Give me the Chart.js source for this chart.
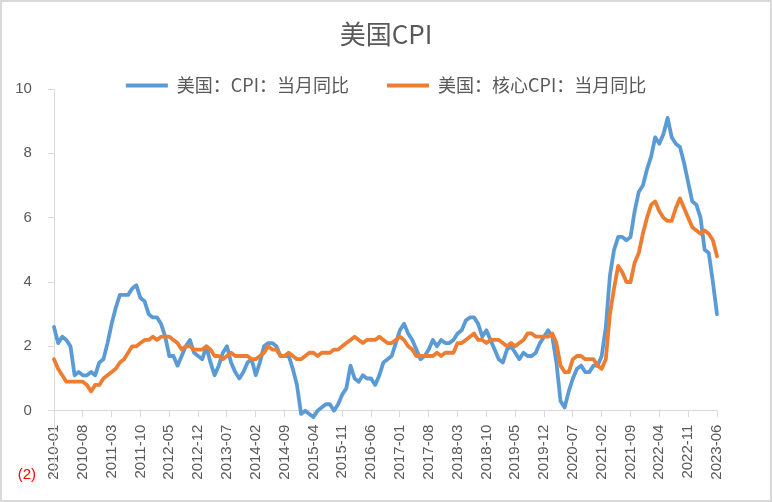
<!DOCTYPE html>
<html>
<head>
<meta charset="utf-8">
<script src="https://cdn.jsdelivr.net/npm/chart.js@4.4.0/dist/chart.umd.min.js"></script>
<style>
  html, body { margin: 0; padding: 0; background: #fff; }
  #wrap { position: relative; width: 772px; height: 502px; }
  #frame { position: absolute; left: 0; top: 0; right: 0; bottom: 0; border: 2px solid #d9d9d9; pointer-events: none; }
</style>
</head>
<body>
<div id="wrap">
  <canvas id="myChart"></canvas>
  <div id="frame"></div>
</div>
<script>
// 数据：2010-01 至 2023-06 每月
const startYear = 2010;
const monthCount = 162;

// 美国：CPI：当月同比
const cpiYoY = [
  2.6, 2.1, 2.3, 2.2, 2.0, 1.1, 1.2, 1.1, 1.1, 1.2, 1.1, 1.5,
  1.6, 2.1, 2.7, 3.2, 3.6, 3.6, 3.6, 3.8, 3.9, 3.5, 3.4, 3.0,
  2.9, 2.9, 2.7, 2.3, 1.7, 1.7, 1.4, 1.7, 2.0, 2.2, 1.8, 1.7,
  1.6, 2.0, 1.5, 1.1, 1.4, 1.8, 2.0, 1.5, 1.2, 1.0, 1.2, 1.5,
  1.6, 1.1, 1.5, 2.0, 2.1, 2.1, 2.0, 1.7, 1.7, 1.7, 1.3, 0.8,
  -0.1, 0.0, -0.1, -0.2, 0.0, 0.1, 0.2, 0.2, 0.0, 0.2, 0.5, 0.7,
  1.4, 1.0, 0.9, 1.1, 1.0, 1.0, 0.8, 1.1, 1.5, 1.6, 1.7, 2.1,
  2.5, 2.7, 2.4, 2.2, 1.9, 1.6, 1.7, 1.9, 2.2, 2.0, 2.2, 2.1,
  2.1, 2.2, 2.4, 2.5, 2.8, 2.9, 2.9, 2.7, 2.3, 2.5, 2.2, 1.9,
  1.6, 1.5, 1.9, 2.0, 1.8, 1.6, 1.8, 1.7, 1.7, 1.8, 2.1, 2.3,
  2.5, 2.3, 1.5, 0.3, 0.1, 0.6, 1.0, 1.3, 1.4, 1.2, 1.2, 1.4,
  1.4, 1.7, 2.6, 4.2, 5.0, 5.4, 5.4, 5.3, 5.4, 6.2, 6.8, 7.0,
  7.5, 7.9, 8.5, 8.3, 8.6, 9.1, 8.5, 8.3, 8.2, 7.7, 7.1, 6.5,
  6.4, 6.0, 5.0, 4.9, 4.0, 3.0
];

// 美国：核心CPI：当月同比
const coreCpiYoY = [
  1.6, 1.3, 1.1, 0.9, 0.9, 0.9, 0.9, 0.9, 0.8, 0.6, 0.8, 0.8,
  1.0, 1.1, 1.2, 1.3, 1.5, 1.6, 1.8, 2.0, 2.0, 2.1, 2.2, 2.2,
  2.3, 2.2, 2.3, 2.3, 2.3, 2.2, 2.1, 1.9, 2.0, 2.0, 1.9, 1.9,
  1.9, 2.0, 1.9, 1.7, 1.7, 1.6, 1.7, 1.8, 1.7, 1.7, 1.7, 1.7,
  1.6, 1.6, 1.7, 1.8, 2.0, 1.9, 1.9, 1.7, 1.7, 1.8, 1.7, 1.6,
  1.6, 1.7, 1.8, 1.8, 1.7, 1.8, 1.8, 1.8, 1.9, 1.9, 2.0, 2.1,
  2.2, 2.3, 2.2, 2.1, 2.2, 2.2, 2.2, 2.3, 2.2, 2.1, 2.1, 2.2,
  2.3, 2.2, 2.0, 1.9, 1.7, 1.7, 1.7, 1.7, 1.7, 1.8, 1.7, 1.8,
  1.8, 1.8, 2.1, 2.1, 2.2, 2.3, 2.4, 2.2, 2.2, 2.1, 2.2, 2.2,
  2.2, 2.1, 2.0, 2.1, 2.0, 2.1, 2.2, 2.4, 2.4, 2.3, 2.3, 2.3,
  2.3, 2.4, 2.1, 1.4, 1.2, 1.2, 1.6, 1.7, 1.7, 1.6, 1.6, 1.6,
  1.4, 1.3, 1.6, 3.0, 3.8, 4.5, 4.3, 4.0, 4.0, 4.6, 4.9, 5.5,
  6.0, 6.4, 6.5, 6.2, 6.0, 5.9, 5.9, 6.3, 6.6, 6.3, 6.0, 5.7,
  5.6, 5.5, 5.6, 5.5, 5.3, 4.8
];

const tickEvery = 7; // 每7个月一个刻度标签
const yMin = -2, yMax = 10, yStep = 2;

// 月份类别 2010-01 ... 2023-06
const months = [];
for (let i = 0; i < monthCount; i++) {
  const y = startYear + Math.floor(i / 12);
  const m = (i % 12) + 1;
  months.push(y + '-' + (m < 10 ? '0' + m : m));
}

const axisFont = { family: "'Liberation Sans', Arial, sans-serif", size: 15 };
const cjkFont = "'Noto Sans CJK SC', 'Noto Sans', sans-serif";
const textColor = '#595959';
const lineColor = '#d9d9d9';

// 图例文字不被自身的裁剪框切掉：布局之后把图例框往下放大
const legendRoom = {
  id: 'legendRoom',
  afterLayout(chart) {
    const lg = chart.legend;
    if (lg) {
      lg.bottom = lg.top + 80;
      lg.height = 80;
    }
  }
};

const ctx = document.getElementById('myChart');
const myChart = new Chart(ctx, {
  type: 'line',
  data: {
    labels: months,
    datasets: [{
      label: '美国：CPI：当月同比',
      data: cpiYoY,
      borderColor: '#5B9BD5',
      backgroundColor: '#5B9BD5',
      borderWidth: 3.8,
      order: 1
    }, {
      label: '美国：核心CPI：当月同比',
      data: coreCpiYoY,
      borderColor: '#ED7D31',
      backgroundColor: '#ED7D31',
      borderWidth: 3.8,
      order: 0
    }]
  },
  plugins: [legendRoom],
  options: {
    responsive: true,
    maintainAspectRatio: false,
    animation: false,
    layout: { padding: { top: 0, left: 0, right: 0, bottom: 27 } },
    elements: {
      point: { radius: 0, hoverRadius: 0 },
      line: { tension: 0, borderJoinStyle: 'round', borderCapStyle: 'round' }
    },
    plugins: {
      title: {
        display: true,
        text: '美国CPI',
        color: textColor,
        font: { family: cjkFont, size: 26, weight: 'normal' },
        padding: { top: 19, bottom: -11.7 }
      },
      legend: {
        display: true,
        maxHeight: 50.5,
        labels: {
          color: textColor,
          font: { family: cjkFont, size: 18 },
          usePointStyle: true,
          pointStyle: 'line',
          pointStyleWidth: 42,
          padding: 38,
          sort: (a, b) => a.datasetIndex - b.datasetIndex
        }
      },
      tooltip: { enabled: false }
    },
    scales: {
      x: {
        type: 'category',
        position: { y: 0 },
        offset: false,
        grid: { drawOnChartArea: false, drawTicks: true, tickLength: 6, color: lineColor },
        border: { display: true, color: lineColor, width: 1 },
        ticks: {
          autoSkip: false,
          minRotation: 90,
          maxRotation: 90,
          padding: 8,
          color: textColor,
          font: axisFont
        },
        afterBuildTicks: axis => {
          axis.ticks = axis.ticks.filter((t, i) => i % tickEvery === 0);
        }
      },
      y: {
        position: 'left',
        min: yMin,
        max: yMax,
        grid: { drawOnChartArea: false, drawTicks: true, tickLength: 6, color: lineColor },
        border: { display: true, color: lineColor, width: 1 },
        ticks: {
          stepSize: yStep,
          padding: 12,
          font: axisFont,
          color: c => (c.tick && c.tick.value < 0 ? '#ff0000' : textColor),
          callback: v => (v < 0 ? '(' + (-v) + ')' : v + ' ')
        },
        afterFit: s => { s.width = 54; }
      },
      // 右侧留白
      yRight: {
        position: 'right',
        min: yMin,
        max: yMax,
        grid: { display: false },
        border: { display: false },
        ticks: { display: false },
        afterFit: s => { s.width = 55; }
      }
    }
  }
});
</script>
</body>
</html>
